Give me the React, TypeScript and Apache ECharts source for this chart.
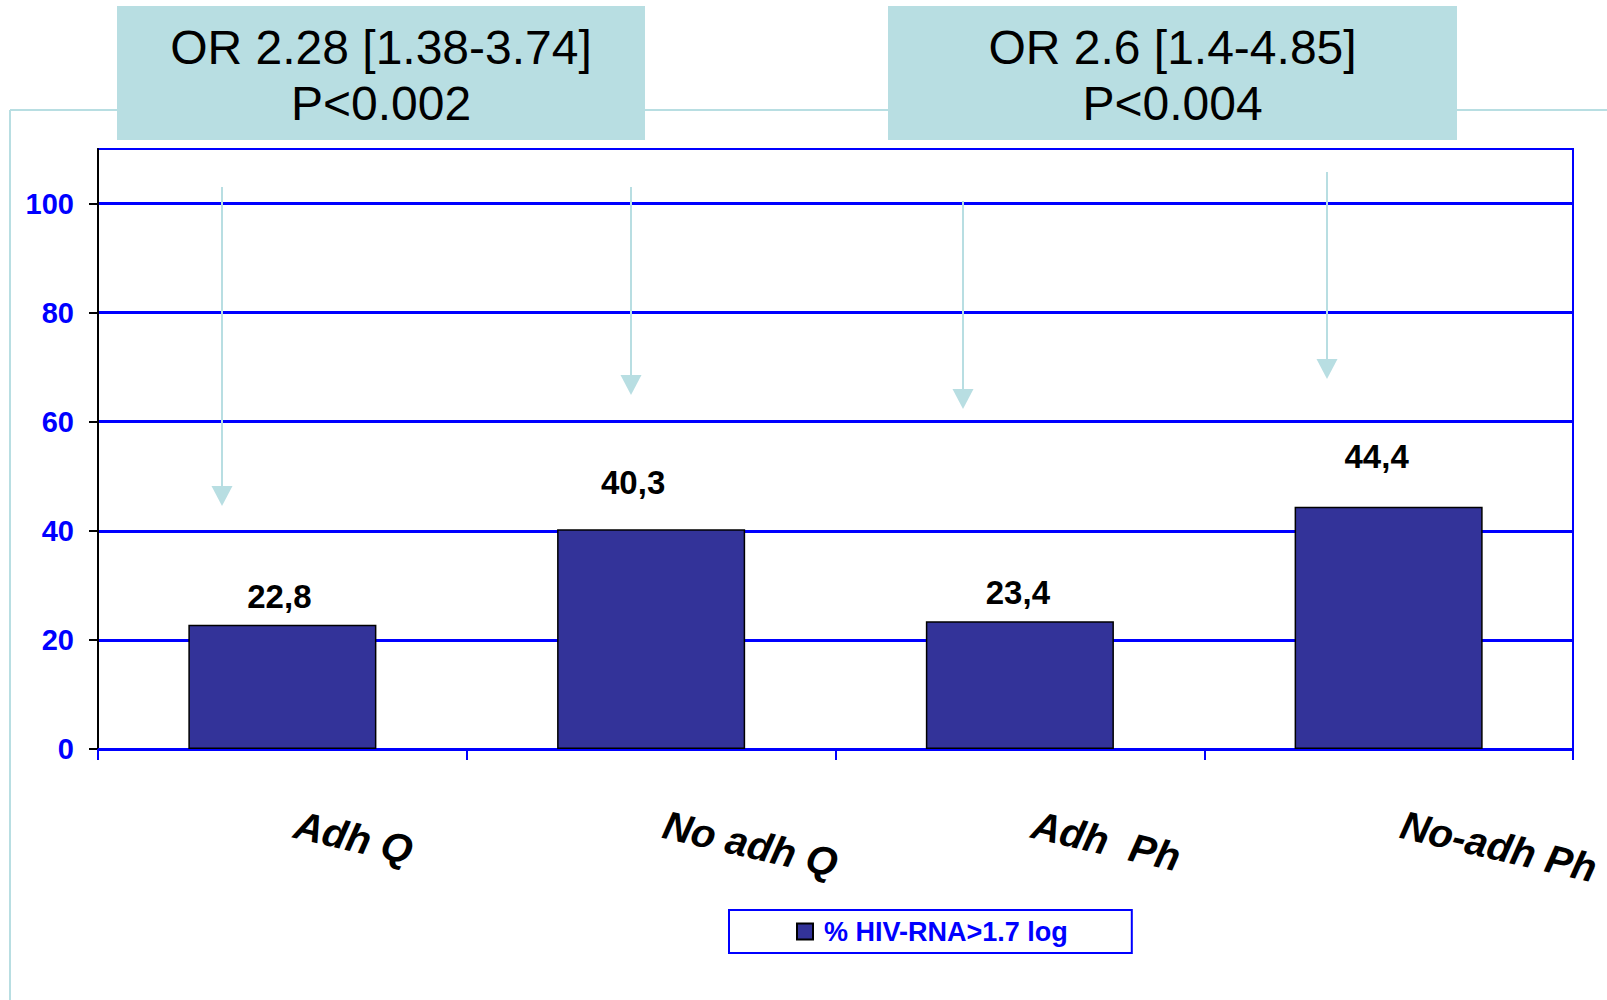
import React, { useEffect, useRef } from "react";
import * as echarts from "echarts";

const categories = ["Adh Q", "No adh Q", "Adh  Ph", "No-adh Ph"];
const values = [22.8, 40.3, 23.4, 44.4];
const seriesName = "% HIV-RNA>1.7 log";
const yTicks = [0, 20, 40, 60, 80, 100];
const boxTexts = [
  ["OR 2.28 [1.38-3.74]", "P<0.002"],
  ["OR 2.6 [1.4-4.85]", "P<0.004"],
];
// label offsets (styling, not data)
const labelOffsets = [[-3, -2], [-18, -20], [-2, -2], [-12, -24]];

const FONT = "'Liberation Sans', Arial, Helvetica, sans-serif";
const TEAL = "#b8dee2";
const BLUE = "#0000ff";

function arrow(x: number, y1: number, y2: number) {
  return [
    { type: "line", z: 50, shape: { x1: x, y1, x2: x, y2: y2 - 18 }, style: { stroke: TEAL, lineWidth: 2 } },
    {
      type: "polygon",
      z: 50,
      shape: { points: [[x - 10.5, y2 - 20], [x + 10.5, y2 - 20], [x, y2]] },
      style: { fill: TEAL },
    },
  ];
}

export default function App() {
  const ref = useRef<HTMLDivElement>(null);
  useEffect(() => {
    if (!ref.current) return;
    const chart = echarts.init(ref.current, null, { renderer: "svg" });
    const boxes = [
      { x: 117, w: 528 },
      { x: 888, w: 569 },
    ];
    const graphic: any[] = [
      { type: "line", z: 1, shape: { x1: 10, y1: 110, x2: 1607, y2: 110 }, style: { stroke: TEAL, lineWidth: 2 } },
      { type: "line", z: 1, shape: { x1: 10, y1: 110, x2: 10, y2: 1000 }, style: { stroke: TEAL, lineWidth: 2 } },
    ];
    boxes.forEach((b, i) => {
      graphic.push({ type: "rect", z: 5, shape: { x: b.x, y: 6, width: b.w, height: 134 }, style: { fill: TEAL } });
      graphic.push({
        type: "text", z: 6, x: b.x + b.w / 2, y: 47,
        style: { text: boxTexts[i][0], fill: "#000", font: `48px ${FONT}`, textAlign: "center", textVerticalAlign: "middle" },
      });
      graphic.push({
        type: "text", z: 6, x: b.x + b.w / 2, y: 103,
        style: { text: boxTexts[i][1], fill: "#000", font: `48px ${FONT}`, textAlign: "center", textVerticalAlign: "middle" },
      });
    });
    graphic.push(...arrow(222, 187, 506));
    graphic.push(...arrow(631, 187, 395));
    graphic.push(...arrow(963, 201, 409));
    graphic.push(...arrow(1327, 172, 379));

    chart.setOption({
      animation: false,
      backgroundColor: "#fff",
      textStyle: { fontFamily: FONT },
      grid: {
        left: 98, right: 34, top: 149, bottom: 251,
        show: true, borderColor: BLUE, borderWidth: 2, backgroundColor: "#fff",
      },
      legend: {
        data: [seriesName],
        left: 729, top: 910,
        backgroundColor: "#fff",
        borderColor: BLUE, borderWidth: 2, borderRadius: 0,
        padding: [8, 64, 8, 67],
        itemWidth: 16, itemHeight: 16, itemGap: 10,
        icon: "rect",
        textStyle: { color: BLUE, fontWeight: "bold", fontSize: 27, fontFamily: FONT, padding: [0, 0, 0, 6] },
      },
      xAxis: {
        type: "category",
        data: categories,
        axisLine: { lineStyle: { color: BLUE, width: 2 } },
        axisTick: { show: true, length: 11, lineStyle: { color: BLUE, width: 2 } },
        axisLabel: {
          rotate: -13, margin: 72, color: "#000", padding: [0, 0, 0, 13],
          fontSize: 40, fontWeight: "bold", fontStyle: "italic", fontFamily: FONT,
        },
        splitLine: { show: false },
      },
      yAxis: {
        type: "value", min: 0, max: 110, interval: 20,
        axisLine: { show: true, lineStyle: { color: "#000", width: 2 } },
        axisTick: { show: true, length: 9, customValues: yTicks, lineStyle: { color: "#000", width: 2 } },
        axisLabel: {
          customValues: yTicks, margin: 24, color: BLUE,
          fontSize: 29, fontWeight: "bold", fontFamily: FONT,
        },
        splitLine: { lineStyle: { color: BLUE, width: 3 } },
      },
      series: [
        {
          name: seriesName,
          type: "bar",
          data: values.map((v, i) => ({ value: v, label: { offset: labelOffsets[i] } })),
          barWidth: "51%",
          itemStyle: { color: "#333399", borderColor: "#000", borderWidth: 1.5 },
          label: {
            show: true, position: "top", distance: 10,
            color: "#000", fontSize: 33, fontWeight: "bold", fontFamily: FONT,
            formatter: (p: any) => String(p.value).replace(".", ","),
          },
        },
      ],
      graphic,
    });
    return () => chart.dispose();
  }, []);
  return <div ref={ref} style={{ position: "fixed", left: 0, top: 0, width: 1607, height: 1000 }} />;
}
